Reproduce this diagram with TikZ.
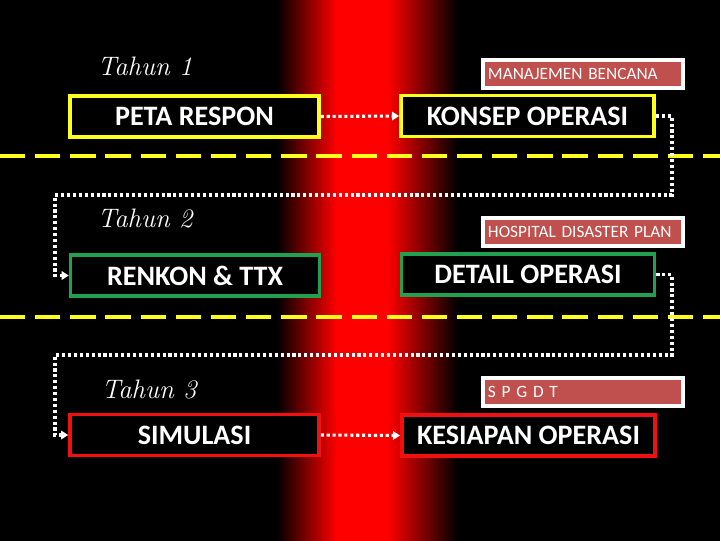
\documentclass[tikz,border=0pt]{standalone}
\usepackage{fontspec}
\setmainfont{Carlito}
\newfontfamily\tahunfont{Latin Modern Roman}
\usetikzlibrary{arrows.meta}
\definecolor{labelred}{HTML}{C0504D}
\definecolor{boxyellow}{HTML}{FFFF1E}
\definecolor{boxgreen}{HTML}{21A050}
\definecolor{boxred}{HTML}{F01010}
% red strip across the middle
\pgfdeclarehorizontalshading{redstrip}{100bp}{color(0bp)=(black); color(44.2bp)=(black);
  color(48.4bp)=(red); color(51.9bp)=(red); color(56.8bp)=(black); color(100bp)=(black)}
\tikzset{
  stagebox/.style={draw=#1,fill=black,line width=2.6pt,text=white,
    font=\fontsize{20}{21}\selectfont\bfseries,minimum height=1.03cm,inner sep=0pt},
  leftbox/.style={stagebox=#1,minimum width=6.22cm},
  rightbox/.style={stagebox=#1,minimum width=6.33cm},
  tagbox/.style={draw=white,fill=labelred,line width=2.6pt,text=white,
    font=\fontsize{12.3}{13}\selectfont,minimum height=0.7cm,text width=4.75cm,
    inner xsep=0.12cm,align=left},
  yearlabel/.style={text=white,font=\tahunfont\itshape\fontsize{19}{20}\selectfont},
  flow/.style={white,line width=2.2pt,dash pattern=on 2.2pt off 2pt,
    -{Triangle[length=5pt,width=6pt]}},
  border/.style={boxyellow,line width=2.8pt,dash pattern=on 18pt off 7pt}
}
\begin{document}
\begin{tikzpicture}[x=0.025cm,y=-0.025cm]
	\shade[shading=redstrip] (0,0) rectangle (720,540);
	\useasboundingbox (0,0) rectangle (720,540);

	% year separators
	\draw[border] (0,156) -- (720,156);
	\draw[border] (0,317) -- (720,317);

	% year 1
	\node[yearlabel] (tahun1) at (145,66) {Tahun 1};
	\node[tagbox] (manajemen) at (583,74) {MANAJEMEN BENCANA};
	\node[leftbox=boxyellow] (peta) at (194.5,116.5) {PETA RESPON};
	\node[rightbox=boxyellow] (konsep) at (527.5,116) {KONSEP OPERASI};

	% year 2
	\node[yearlabel] (tahun2) at (145,219) {Tahun 2};
	\node[tagbox] (hospital) at (583,232) {HOSPITAL DISASTER PLAN};
	\node[leftbox=boxgreen] (renkon) at (195,275.5) {RENKON \& TTX};
	\node[rightbox=boxgreen] (detail) at (528,274.5) {DETAIL OPERASI};

	% year 3
	\node[yearlabel] (tahun3) at (149,389) {Tahun 3};
	\node[tagbox] (spgdt) at (583,392) {S P G D T};
	\node[leftbox=boxred] (simulasi) at (194.5,435) {SIMULASI};
	\node[rightbox=boxred] (kesiapan) at (528.5,435.5) {KESIAPAN OPERASI};

	% turning points
	\coordinate (turn1a) at (672,195);
	\coordinate (turn1b) at (55,195);
	\coordinate (turn2a) at (672,355);
	\coordinate (turn2b) at (55,355);

	\draw[flow] (peta.east) -- (konsep.west);
	\draw[flow] (konsep.east) -| (turn1a) -- (turn1b) |- (renkon.west);
	\draw[flow] (detail.east) -| (turn2a) -- (turn2b) |- (simulasi.west);
	\draw[flow] (simulasi.east) -- (kesiapan.west);
\end{tikzpicture}
\end{document}
